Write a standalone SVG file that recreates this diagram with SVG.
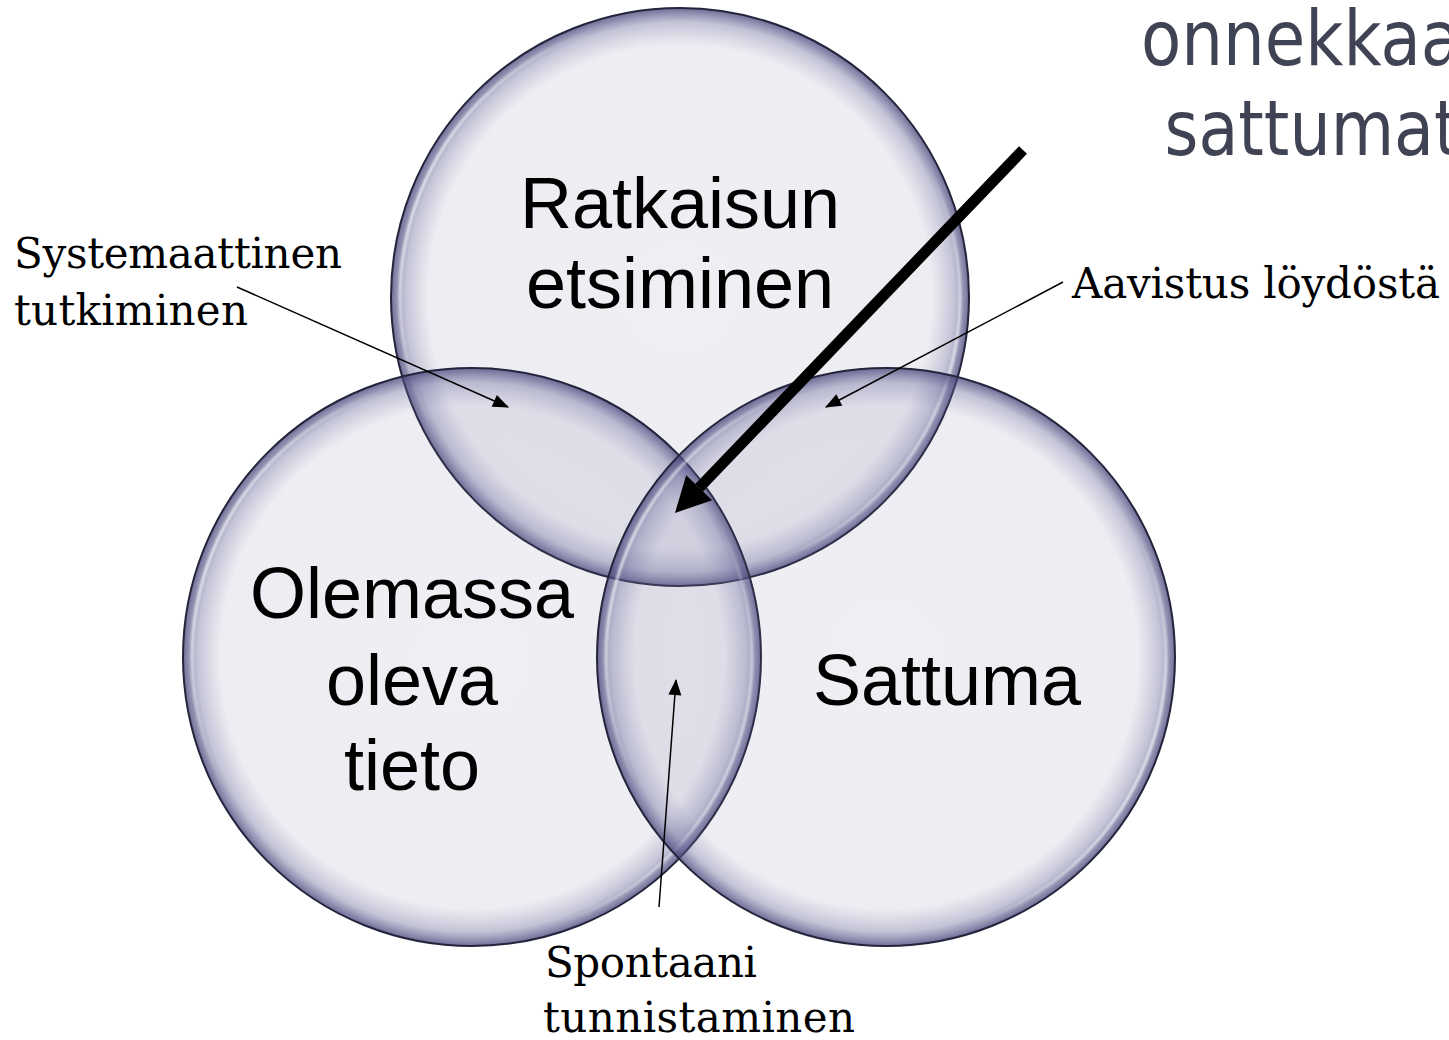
<svg xmlns="http://www.w3.org/2000/svg" width="1449" height="1040" viewBox="0 0 1449 1040">
<defs>
<radialGradient id="fillG" cx="50%" cy="50%" r="50%">
<stop offset="0" stop-color="rgb(118,116,160)" stop-opacity="0.12"/>
<stop offset="0.87" stop-color="rgb(118,116,160)" stop-opacity="0.13"/>
<stop offset="0.95" stop-color="rgb(100,98,150)" stop-opacity="0.38"/>
<stop offset="1" stop-color="rgb(70,68,120)" stop-opacity="0.78"/>
</radialGradient>
<linearGradient id="hiG" x1="0" y1="0.3" x2="1" y2="0.7">
<stop offset="0" stop-color="#fff" stop-opacity="0.95"/>
<stop offset="0.2" stop-color="#fff" stop-opacity="0"/>
<stop offset="0.8" stop-color="#fff" stop-opacity="0"/>
<stop offset="1" stop-color="#fff" stop-opacity="0.95"/>
</linearGradient>
<filter id="blur" x="-10%" y="-10%" width="120%" height="120%"><feGaussianBlur stdDeviation="1.2"/></filter>
<marker id="thin" markerUnits="userSpaceOnUse" markerWidth="17" markerHeight="14" refX="15" refY="7" orient="auto" overflow="visible">
<path d="M0,0.5 L16,7 L0,13.5 z" fill="#000"/>
</marker>
<marker id="thick" markerUnits="userSpaceOnUse" markerWidth="36" markerHeight="36" refX="0" refY="18" orient="auto" overflow="visible">
<path d="M0,0 L35,18 L0,36 z" fill="#000"/>
</marker>
</defs>
<style>
.circ{fill:url(#fillG);stroke:#24243c;stroke-width:2}
.hi{fill:none;stroke:url(#hiG);stroke-width:2.5;filter:url(#blur)}
.big{font-family:"Liberation Sans",Arial,sans-serif;font-size:72px;fill:#000;text-anchor:middle}
.lbl{font-family:"DejaVu Serif","Liberation Serif",serif;font-size:42px;fill:#000}
.ttl{font-family:"DejaVu Sans",sans-serif;font-size:76px;fill:#404354;text-anchor:middle}
.con{stroke:#000;stroke-width:1.5;fill:none}
</style>
<rect width="1449" height="1040" fill="#fff"/>
<g id="node-ratkaisun">
<circle class="circ" cx="680" cy="297" r="289"/>
<circle class="hi" cx="680" cy="297" r="280"/>
<text class="big" x="680" y="228">Ratkaisun</text>
<text class="big" x="680" y="308">etsiminen</text>
</g>
<g id="node-olemassa">
<circle class="circ" cx="472" cy="657" r="289"/>
<circle class="hi" cx="472" cy="657" r="280"/>
<text class="big" x="412" y="618">Olemassa</text>
<text class="big" x="412" y="705">oleva</text>
<text class="big" x="412" y="790">tieto</text>
</g>
<g id="node-sattuma">
<circle class="circ" cx="886" cy="657" r="289"/>
<circle class="hi" cx="886" cy="657" r="280"/>
<text class="big" x="947" y="705">Sattuma</text>
</g>
<g id="title">
<text class="ttl" x="1314" y="65" textLength="346" lengthAdjust="spacingAndGlyphs">onnekkaat</text>
<text class="ttl" x="1312" y="155" textLength="295" lengthAdjust="spacingAndGlyphs">sattumat</text>
</g>
<g id="labels">
<text class="lbl" x="14" y="268" textLength="328">Systemaattinen</text>
<text class="lbl" x="14" y="325" textLength="234">tutkiminen</text>
<text class="lbl" x="1072" y="298" textLength="368">Aavistus löydöstä</text>
<text class="lbl" x="545" y="977" textLength="212">Spontaani</text>
<text class="lbl" x="543" y="1032" textLength="312">tunnistaminen</text>
</g>
<g id="connectors">
<line class="con" x1="237" y1="287" x2="508" y2="407" marker-end="url(#thin)"/>
<line class="con" x1="1063" y1="282" x2="826" y2="407" marker-end="url(#thin)"/>
<line class="con" x1="659" y1="907" x2="676" y2="680" marker-end="url(#thin)"/>
<line x1="1023" y1="150" x2="699.2" y2="487.7" stroke="#000" stroke-width="11" marker-end="url(#thick)"/>
</g>
</svg>
